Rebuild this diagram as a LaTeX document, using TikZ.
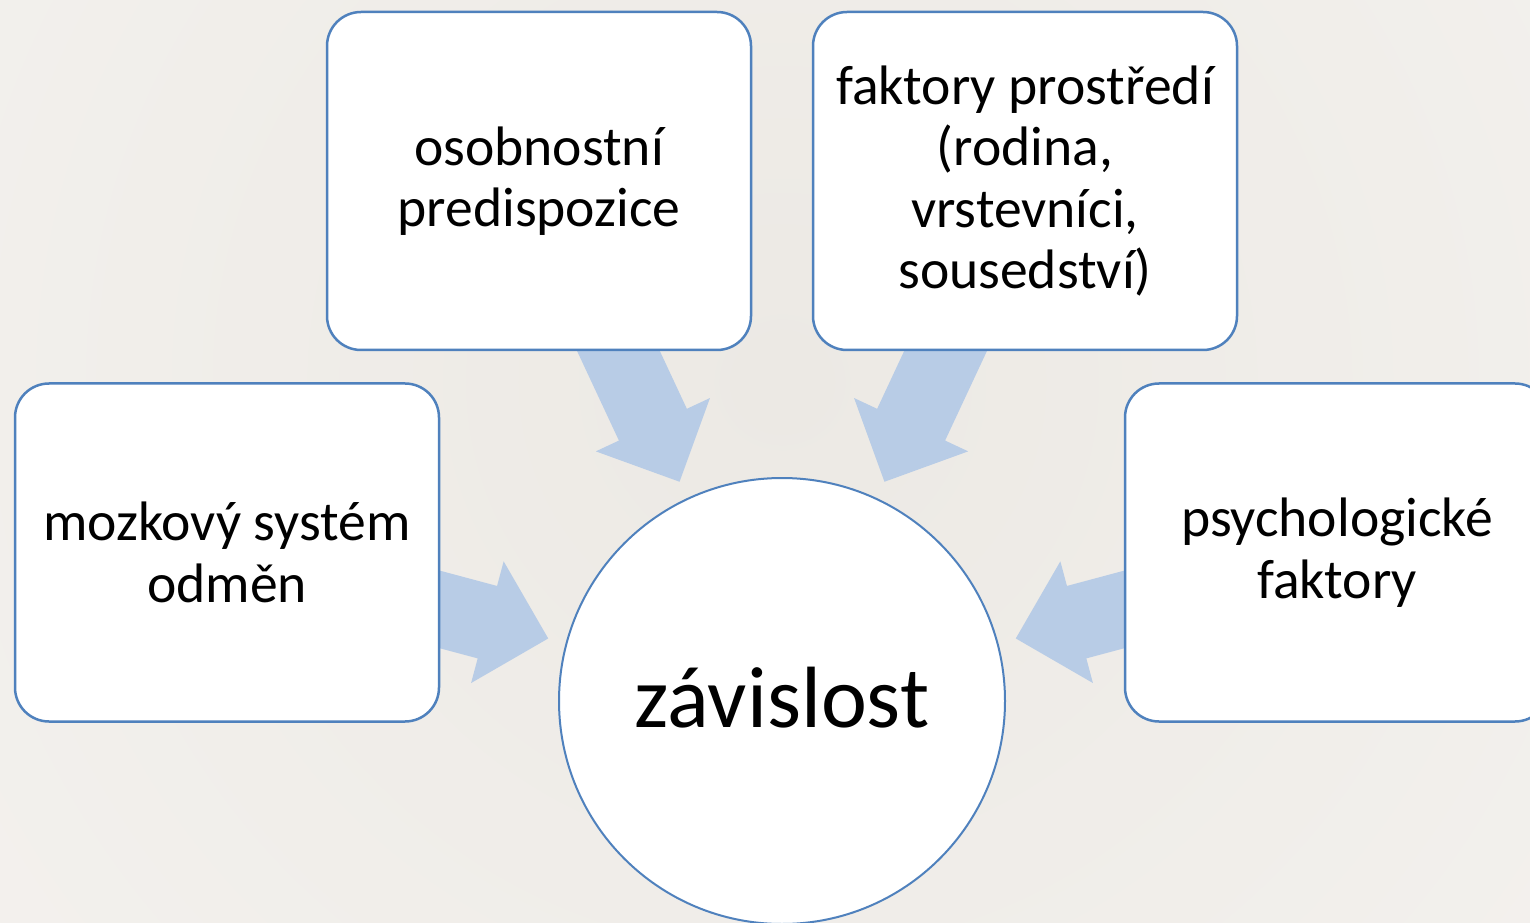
\documentclass[tikz,border=0pt]{standalone}
\usepackage{fontspec}
\setmainfont{Carlito}
\usetikzlibrary{calc}

\pgfdeclarelayer{backdrop}
\pgfdeclarelayer{arrows}
\pgfsetlayers{backdrop,arrows,main}

\definecolor{accentblue}{RGB}{79,129,189}
\definecolor{feedblue}{RGB}{184,204,230}
\definecolor{bgin}{RGB}{236,233,228}
\definecolor{bgout}{RGB}{250,248,246}

\tikzset{
  factor/.style={draw=accentblue, line width=2.5pt, fill=white,
    rounded corners=34pt, minimum width=424pt, minimum height=338pt,
    inner sep=0pt, align=center, font=\fontsize{55.6}{61.5}\selectfont},
  hubnode/.style={circle, draw=accentblue, line width=2pt, fill=white,
    minimum size=446pt, inner sep=0pt, text height=62pt, text depth=10pt,
    font=\fontsize{87}{100}\selectfont},
  feed/.style={fill=feedblue}
}

% block arrow pointing from a factor box towards the hub circle
\newcommand\feedarrow[1]{%
  \fill[feed]
    ($(#1.center)!37.5pt!90:(hub.center)$)
    -- ($(hub.center)!305pt!(#1.center)!37.5pt!90:(hub.center)$)
    -- ($(hub.center)!305pt!(#1.center)!63pt!90:(hub.center)$)
    -- ($(hub.center)!242pt!(#1.center)$)
    -- ($(hub.center)!305pt!(#1.center)!63pt!-90:(hub.center)$)
    -- ($(hub.center)!305pt!(#1.center)!37.5pt!-90:(hub.center)$)
    -- ($(#1.center)!37.5pt!-90:(hub.center)$)
    -- cycle;}

\begin{document}
\begin{tikzpicture}[x=1pt, y=1pt]
  \useasboundingbox (0,0) rectangle (1530,922);

  % soft radial backdrop
  \begin{pgfonlayer}{backdrop}
    \fill[bgout] (0,0) rectangle (1530,922);
    \begin{scope}
      \clip (0,0) rectangle (1530,922);
      \shade[inner color=bgin, outer color=bgout] (782,540) circle (1900);
    \end{scope}
  \end{pgfonlayer}

  % hub and the four factors
  \node[hubnode] (hub) at (782,221) {závislost};
  \node[factor] (osob)  at (539,741)   {osobnostní\\predispozice};
  \node[factor] (prost) at (1025,741)  {faktory prostředí\\(rodina,\\vrstevníci,\\sousedství)};
  \node[factor] (mozek) at (227,369.5) {mozkový systém\\odměn};
  \node[factor] (psych) at (1337,369.5) {psychologické\\faktory};

  % arrows from each factor into the hub
  \begin{pgfonlayer}{arrows}
    \feedarrow{osob}
    \feedarrow{prost}
    \feedarrow{mozek}
    \feedarrow{psych}
  \end{pgfonlayer}
\end{tikzpicture}
\end{document}
